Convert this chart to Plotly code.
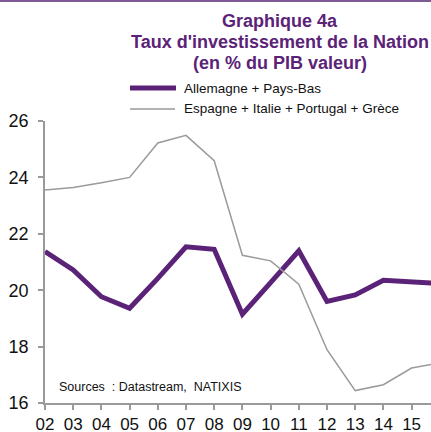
import plotly.graph_objects as go

years = ["02", "03", "04", "05", "06", "07", "08", "09", "10", "11", "12", "13", "14", "15", "16"]
allemagne_pays_bas = [21.37, 20.72, 19.77, 19.36, 20.42, 21.54, 21.45, 19.15, 20.27, 21.40, 19.60, 19.83, 20.35, 20.30, 20.24]
espagne_italie_portugal_grece = [23.55, 23.64, 23.81, 24.00, 25.22, 25.49, 24.59, 21.24, 21.04, 20.21, 17.89, 16.44, 16.65, 17.24, 17.42]
series_names = ["Allemagne + Pays-Bas", "Espagne + Italie + Portugal + Grèce"]
title_lines = ["Graphique 4a", "Taux d'investissement de la Nation", "(en % du PIB valeur)"]
y_ticks = [16, 18, 20, 22, 24, 26]
x_ticks = ["02", "03", "04", "05", "06", "07", "08", "09", "10", "11", "12", "13", "14", "15"]

purple = "#5b2378"
gray = "#9a9a9a"
font = "Liberation Sans, Arial, sans-serif"

W, H = 431, 432
L, R, T, B = 45, 0, 121, 29
PW, PH = W - L - R, H - T - B


def px(x):
    return (x - L) / PW


def py(y):
    return (H - B - y) / PH


fig = go.Figure()
fig.add_trace(go.Scatter(x=years, y=allemagne_pays_bas, mode="lines",
                         name=series_names[0],
                         line=dict(color=purple, width=5)))
fig.add_trace(go.Scatter(x=years, y=espagne_italie_portugal_grece, mode="lines",
                         name=series_names[1],
                         line=dict(color=gray, width=1.5)))

annotations = []
for line, yc in zip(title_lines, [21.5, 41.5, 63]):
    annotations.append(dict(text="<b>" + line + "</b>", xref="paper", yref="paper",
                            x=px(280), xanchor="center", y=py(yc), yanchor="middle",
                            showarrow=False,
                            font=dict(family=font, size=18, color=purple)))
for name, yc in zip(series_names, [88, 109]):
    annotations.append(dict(text=name, xref="paper", yref="paper",
                            x=px(182), xanchor="left", y=py(yc), yanchor="middle",
                            showarrow=False,
                            font=dict(family=font, size=13.5, color="#111111")))
annotations.append(dict(
    text="Sources  : Datastream,  NATIXIS",
    xref="paper", yref="paper",
    x=px(57), xanchor="left", y=py(387), yanchor="middle",
    showarrow=False,
    font=dict(family=font, size=12.5, color="#111111"),
))

shapes = [
    dict(type="line", xref="paper", yref="paper",
         x0=px(0), x1=px(W), y0=py(1), y1=py(1),
         line=dict(color="#7d5a96", width=2)),
    dict(type="line", xref="paper", yref="paper",
         x0=px(130), x1=px(176), y0=py(88), y1=py(88),
         line=dict(color=purple, width=5)),
    dict(type="line", xref="paper", yref="paper",
         x0=px(130), x1=px(175), y0=py(109), y1=py(109),
         line=dict(color=gray, width=1.5)),
]

fig.update_layout(
    width=W, height=H,
    margin=dict(l=L, r=R, t=T, b=B, autoexpand=False),
    paper_bgcolor="white", plot_bgcolor="white",
    font=dict(family=font, color="#111111"),
    showlegend=False,
    xaxis=dict(
        type="category", categoryorder="array", categoryarray=years,
        range=[0, PW / 28.2], automargin=False,
        tickmode="array", tickvals=x_ticks, ticktext=x_ticks,
        showgrid=False, zeroline=False,
        showline=True, linecolor=gray, linewidth=1.5,
        ticks="outside", ticklen=5, tickcolor=gray, tickwidth=1.5,
        tickfont=dict(family=font, size=17, color="#111111"),
        ticklabelstandoff=0,
    ),
    yaxis=dict(
        range=[16, 26], automargin=False,
        tickmode="array", tickvals=y_ticks,
        showgrid=False, zeroline=False,
        showline=True, linecolor=gray, linewidth=1.5,
        ticks="outside", ticklen=5, tickcolor=gray, tickwidth=1.5,
        tickfont=dict(family=font, size=18, color="#111111"),
        ticklabelstandoff=6,
    ),
    shapes=shapes,
    annotations=annotations,
)

fig.write_html("out.html",
               config={"displayModeBar": False},
               post_script="document.body.style.margin='0';document.body.style.overflow='hidden';")
